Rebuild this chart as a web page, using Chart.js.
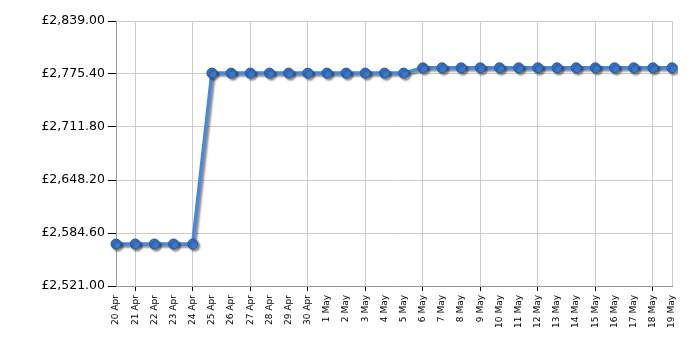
<!DOCTYPE html>
<html><head><meta charset="utf-8">
<script src="https://cdn.jsdelivr.net/npm/chart.js@4"></script>
<style>html,body{margin:0;padding:0;background:#fff}#w{width:700px;height:350px}</style>
</head><body><div id="w"><canvas id="c"></canvas></div>
<script>
const categories = ["20 Apr","21 Apr","22 Apr","23 Apr","24 Apr","25 Apr","26 Apr","27 Apr","28 Apr","29 Apr","30 Apr","1 May","2 May","3 May","4 May","5 May","6 May","7 May","8 May","9 May","10 May","11 May","12 May","13 May","14 May","15 May","16 May","17 May","18 May","19 May"];
const prices = [2571.4,2571.4,2571.4,2571.4,2571.4,2776.5,2776.5,2776.5,2776.5,2776.5,2776.5,2776.5,2776.5,2776.5,2776.5,2776.5,2782.8,2782.8,2782.8,2782.8,2782.8,2782.8,2782.8,2782.8,2782.8,2782.8,2782.8,2782.8,2782.8,2782.8];
const yTicks = [2521.00,2584.60,2648.20,2711.80,2775.40,2839.00];

const shadow = {
  id:'shadow',
  beforeDatasetDraw(chart){const c=chart.ctx;c.save();c.shadowColor='rgba(0,0,0,0.45)';c.shadowOffsetX=2;c.shadowOffsetY=2;c.shadowBlur=2;},
  afterDatasetDraw(chart){chart.ctx.restore();}
};
const fmt = v => '£' + v.toLocaleString('en-GB',{minimumFractionDigits:2,maximumFractionDigits:2});
const isMajor = i => i % 3 === 1;

new Chart(document.getElementById('c'),{
  type:'line',
  data:{labels:categories,datasets:[{data:prices,borderColor:'#4a88dc',borderWidth:3.5,
    pointBackgroundColor:'#3a76cc',pointBorderColor:'#2b5a9c',pointBorderWidth:1,pointRadius:5,
    tension:0,fill:false}]},
  options:{responsive:true,maintainAspectRatio:false,animation:false,
    layout:{padding:{top:21,right:28,left:0,bottom:0}},
    plugins:{legend:{display:false},tooltip:{enabled:false}},
    scales:{
      x:{offset:false,
        afterFit(s){s.height=64;},
        border:{color:'#999',width:1},
        grid:{color:c=>(isMajor(c.index)||c.index===categories.length-1)?'#cccccc':'rgba(0,0,0,0)',
              tickColor:c=>isMajor(c.index)?'#000':'rgba(0,0,0,0)',tickLength:5,lineWidth:1},
        ticks:{autoSkip:false,maxRotation:90,minRotation:90,padding:4,color:'#000',
               font:{family:'DejaVu Sans',size:9}}},
      y:{min:2521,max:2839,
        afterBuildTicks(s){s.ticks=yTicks.map(v=>({value:v}));},
        afterFit(s){s.width=116;},
        border:{color:'#999',width:1},
        grid:{color:'#cccccc',tickColor:'#000',tickLength:8},
        ticks:{padding:3,color:'#000',font:{family:'DejaVu Sans',size:12.5},callback:v=>fmt(v)}}
    }
  },
  plugins:[shadow]
});
</script></body></html>
